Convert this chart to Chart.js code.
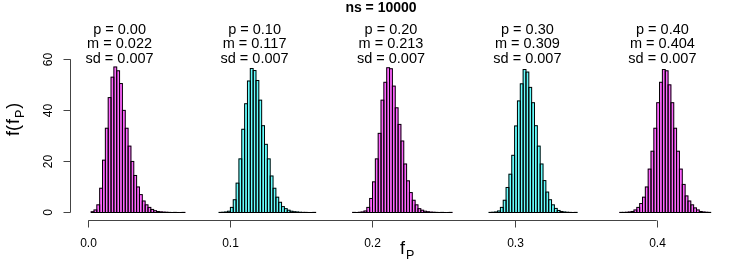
<!DOCTYPE html>
<html>
<head>
<meta charset="utf-8">
<script src="https://cdn.jsdelivr.net/npm/chart.js@4.4.0/dist/chart.umd.min.js"></script>
<style>
  html, body { margin: 0; padding: 0; background: #fff; }
  canvas { display: block; }
</style>
</head>
<body>
<canvas id="myChart" width="747" height="262"></canvas>
<script>
// histogram settings
var binWidth = 0.002;
var pLabels = ["0.00", "0.10", "0.20", "0.30", "0.40"];
var means = [0.022, 0.117, 0.213, 0.309, 0.404];
var sds = ["0.007", "0.007", "0.007", "0.007", "0.007"];
var binStarts = [0.002, 0.092, 0.186, 0.282, 0.374];
var fillColors = ["#ff66ff", "#66ffff", "#ff66ff", "#66ffff", "#ff66ff"];

// densities, one per bin
var dens0 = [0.3, 1, 3, 9.5, 20.5, 33, 45, 53, 57, 55.5, 50.5, 40, 33, 26, 20, 14.5, 10, 7, 4.5, 3,
  2, 1.2, 0.7, 0.4, 0.25, 0.15, 0.1, 0.05, 0, 0.05, 0, 0, 0.05];
var dens1 = [0.05, 0.1, 0.2, 0.5, 2, 5, 11.5, 21, 32.6, 42.6, 51.5, 56.4, 55.6, 51.7, 44, 34, 26.7, 21,
  14.3, 9.5, 6, 4, 2.3, 1.5, 0.9, 0.5, 0.3, 0.2, 0.1, 0.05, 0.05, 0, 0, 0.05];
var dens2 = [0.05, 0, 0.1, 0.2, 0.6, 2, 5.5, 12, 21, 31, 44, 51, 56.7, 56.3, 49.5, 41, 34.5, 28, 19,
  12.4, 7.8, 4.8, 3, 1.5, 0.9, 0.5, 0.3, 0.15, 0.1, 0.05, 0, 0.05, 0, 0, 0.05];
var dens3 = [0.05, 0.1, 0.2, 0.6, 2, 4.8, 9.8, 15, 22.4, 33.9, 43.7, 50.4, 56, 55, 49, 43, 34, 26, 19,
  12.5, 8, 5, 3, 1.6, 0.8, 0.4, 0.2, 0.1, 0.05, 0, 0.05];
var dens4 = [0.05, 0.05, 0.1, 0.2, 0.4, 1, 2, 3.5, 6, 10, 17, 24, 33, 43, 51, 56, 55.5, 50, 43, 33, 24,
  17, 11, 6.5, 4.5, 3, 1.8, 1, 0.4, 0.2, 0.1, 0.05];
var densities = [dens0, dens1, dens2, dens3, dens4];

// axis ticks
var xTicks = [0, 0.1, 0.2, 0.3, 0.4];
var xTickLabels = ["0.0", "0.1", "0.2", "0.3", "0.4"];
var yTicks = [0, 20, 40, 60];
var yTickLabels = ["0", "20", "40", "60"];

var FONT = "'Liberation Sans', Arial, sans-serif";

function makeDataset(k) {
  var pts = densities[k].map(function (d, i) {
    var mid = binStarts[k] + (i + 0.5) * binWidth;
    return { x: Math.round(mid * 1e6) / 1e6, y: d };
  });
  return {
    data: pts,
    backgroundColor: fillColors[k],
    borderWidth: 0,
    grouped: false,
    barPercentage: 1,
    categoryPercentage: 1,
  };
}

// R-like outlines, axes and texts
var rStyle = {
  id: "rStyle",
  afterDatasetsDraw: function (chart) {
    var ctx = chart.ctx;
    ctx.save();
    ctx.strokeStyle = "#000";
    ctx.lineWidth = 1;
    chart.data.datasets.forEach(function (ds, i) {
      chart.getDatasetMeta(i).data.forEach(function (bar) {
        var p = bar.getProps(["x", "y", "base", "width"], true);
        ctx.strokeRect(p.x - p.width / 2, Math.min(p.y, p.base), p.width, Math.abs(p.base - p.y));
      });
    });
    ctx.restore();
  },
  afterDraw: function (chart) {
    var ctx = chart.ctx;
    var xs = chart.scales.x;
    var ys = chart.scales.y;
    var area = chart.chartArea;
    ctx.save();
    ctx.strokeStyle = "#444";
    ctx.fillStyle = "#000";
    ctx.lineWidth = 1;

    // x axis
    var ay = Math.round(area.bottom) - 0.5;
    ctx.beginPath();
    ctx.moveTo(xs.getPixelForValue(xTicks[0]), ay);
    ctx.lineTo(xs.getPixelForValue(xTicks[xTicks.length - 1]), ay);
    ctx.stroke();
    ctx.font = "12px " + FONT;
    ctx.textAlign = "center";
    ctx.textBaseline = "alphabetic";
    xTicks.forEach(function (v, i) {
      var px = Math.round(xs.getPixelForValue(v)) + 0.5;
      ctx.beginPath();
      ctx.moveTo(px, ay);
      ctx.lineTo(px, ay + 7);
      ctx.stroke();
      ctx.fillText(xTickLabels[i], px, 247);
    });

    // y axis
    var ax = Math.round(area.left) + 0.5;
    ctx.beginPath();
    ctx.moveTo(ax, ys.getPixelForValue(yTicks[0]));
    ctx.lineTo(ax, ys.getPixelForValue(yTicks[yTicks.length - 1]));
    ctx.stroke();
    yTicks.forEach(function (v, i) {
      var py = Math.round(ys.getPixelForValue(v)) + 0.5;
      ctx.beginPath();
      ctx.moveTo(ax, py);
      ctx.lineTo(ax - 7, py);
      ctx.stroke();
      ctx.save();
      ctx.translate(51.5, py);
      ctx.rotate(-Math.PI / 2);
      ctx.fillText(yTickLabels[i], 0, 0);
      ctx.restore();
    });

    // title
    ctx.font = "bold 14px " + FONT;
    ctx.fillText("ns = 10000", 381, 12);

    // p / m / sd above every histogram
    ctx.font = "14.5px " + FONT;
    means.forEach(function (m, k) {
      var px = xs.getPixelForValue(m);
      ctx.fillText("p = " + pLabels[k], px, 33.5);
      ctx.fillText("m = " + m.toFixed(3), px, 48);
      ctx.fillText("sd = " + sds[k], px, 62.5);
    });

    // x axis title f_P
    ctx.textAlign = "left";
    ctx.font = "18px " + FONT;
    ctx.fillText("f", 400, 254);
    var fw = ctx.measureText("f").width;
    ctx.font = "12.5px " + FONT;
    ctx.fillText("P", 400 + fw + 1, 259);

    // y axis title f(f_P)
    ctx.save();
    ctx.translate(19, 136);
    ctx.rotate(-Math.PI / 2);
    var cx = 0;
    ctx.font = "18px " + FONT;
    ctx.fillText("f(", cx, 0);
    cx += ctx.measureText("f(").width + 1;
    ctx.fillText("f", cx, 0);
    cx += ctx.measureText("f").width + 1;
    ctx.font = "12.5px " + FONT;
    ctx.fillText("P", cx, 5);
    cx += ctx.measureText("P").width + 1;
    ctx.font = "18px " + FONT;
    ctx.fillText(")", cx, 0);
    ctx.restore();

    ctx.restore();
  },
};

var ctx = document.getElementById("myChart").getContext("2d");
var myChart = new Chart(ctx, {
  type: "bar",
  data: {
    datasets: [0, 1, 2, 3, 4].map(makeDataset),
  },
  options: {
    responsive: false,
    animation: false,
    devicePixelRatio: 1,
    layout: {
      padding: { left: 70, right: 19, top: 45, bottom: 41 },
    },
    scales: {
      x: {
        type: "linear",
        display: false,
        offset: false,
        min: -0.01288,
        max: 0.45018,
      },
      y: {
        display: false,
        min: -3.33,
        max: 65.6,
      },
    },
    plugins: {
      legend: { display: false },
      tooltip: { enabled: false },
    },
  },
  plugins: [rStyle],
});
</script>
</body>
</html>
